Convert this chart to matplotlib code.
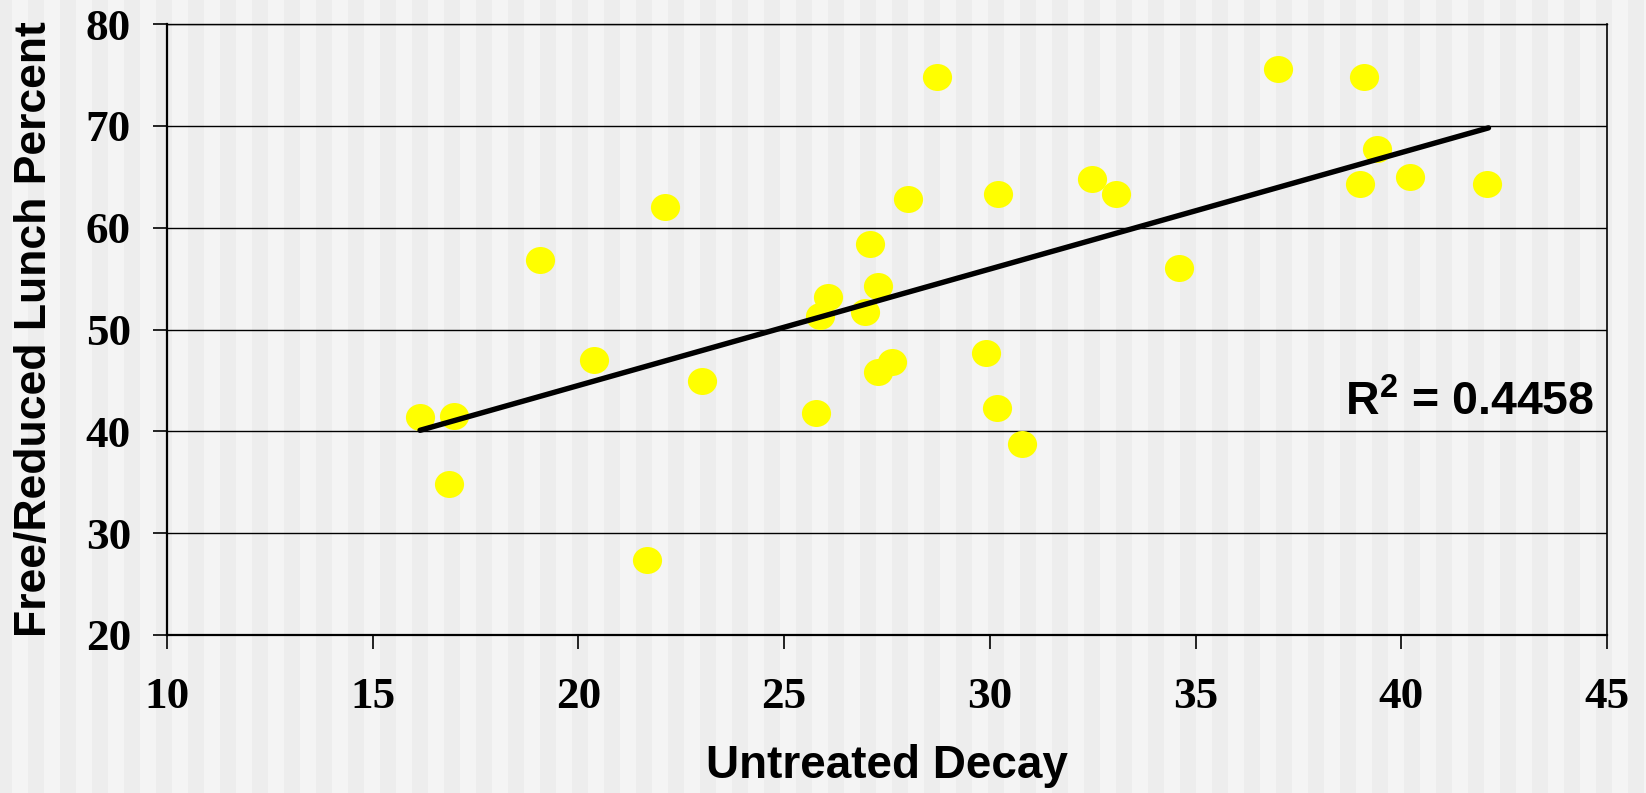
import matplotlib
matplotlib.use("Agg")
import matplotlib.pyplot as plt
from matplotlib.patches import Rectangle
from matplotlib.path import Path
from matplotlib.transforms import Affine2D

# scatter data
decay = [16.15, 16.98, 16.86, 19.07, 20.37, 21.67, 22.10, 23.01, 25.78, 25.87,
         26.07, 26.97, 27.08, 27.27, 27.27, 27.61, 28.00, 28.71, 29.91, 30.18,
         30.19, 30.77, 32.49, 33.07, 34.60, 37.00, 39.10, 39.00, 39.40, 40.20,
         42.08]
lunch = [41.36, 41.52, 34.78, 56.79, 47.00, 27.35, 62.05, 44.96, 41.76, 51.32,
         53.21, 51.71, 58.42, 54.26, 45.85, 46.80, 62.81, 74.83, 47.71, 42.25,
         63.33, 38.74, 64.81, 63.33, 56.07, 75.55, 74.83, 64.28, 67.75, 65.00,
         64.28]

# excel linear trendline (end points)
trend_x = [16.15, 42.12]
trend_y = [40.1, 69.8]
r2_label = "0.4458"

x_ticks = [10, 15, 20, 25, 30, 35, 40, 45]
y_ticks = [20, 30, 40, 50, 60, 70, 80]

plt.rcParams["mathtext.fontset"] = "custom"
plt.rcParams["mathtext.rm"] = "Liberation Sans:bold"
plt.rcParams["mathtext.bf"] = "Liberation Sans:bold"

W, H = 1646, 793
fig = plt.figure(figsize=(W / 100, H / 100), dpi=100)
fig.patch.set_facecolor("#f4f4f4")

# striped slide background
x0 = -4
while x0 < W:
    fig.patches.append(Rectangle((x0 / W, 0), 16 / W, 1,
                                 transform=fig.transFigure,
                                 facecolor="#ededed", edgecolor="none",
                                 zorder=-10))
    x0 += 32

ax = fig.add_axes([167 / W, 1 - 635 / H, 1440 / W, 611 / H])
ax.set_facecolor("none")

ellipse = Path.unit_circle().transformed(Affine2D().scale(1.08, 1.0))
ax.plot(decay, lunch, linestyle="none", marker=ellipse, markersize=21,
        markerfacecolor="#ffff00", markeredgecolor="none", zorder=3)
ax.plot(trend_x, trend_y, color="black", linewidth=3.9,
        solid_capstyle="round", zorder=4)

ax.set_xlim(10, 45)
ax.set_ylim(20, 80)
ax.set_xticks(x_ticks)
ax.set_yticks(y_ticks)
ax.yaxis.grid(True, color="black", linewidth=1.0)
ax.set_axisbelow(True)

for side in ["left", "bottom"]:
    ax.spines[side].set_linewidth(1.6)
ax.spines["right"].set_linewidth(1.2)
ax.spines["top"].set_linewidth(1.0)

ax.tick_params(axis="both", direction="out", width=1.2, color="black")
ax.tick_params(axis="x", length=10, pad=20)
ax.tick_params(axis="y", length=10, pad=16)
for lab in ax.get_xticklabels() + ax.get_yticklabels():
    lab.set_family("Liberation Serif")
    lab.set_fontweight("bold")
    lab.set_fontsize(32.5)

ax.set_xlabel("Untreated Decay", family="Liberation Sans", fontweight="bold",
              fontsize=33, labelpad=20)
ax.set_ylabel("Free/Reduced Lunch Percent", family="Liberation Sans",
              fontweight="bold", fontsize=32, labelpad=22)

ax.text(44.7, 41.6, r"R$^{\mathbf{2}}$ = " + r2_label, ha="right",
        va="baseline", family="Liberation Sans", fontweight="bold",
        fontsize=33.5, zorder=5)

fig.savefig("out.png", dpi=100, facecolor=fig.get_facecolor())
